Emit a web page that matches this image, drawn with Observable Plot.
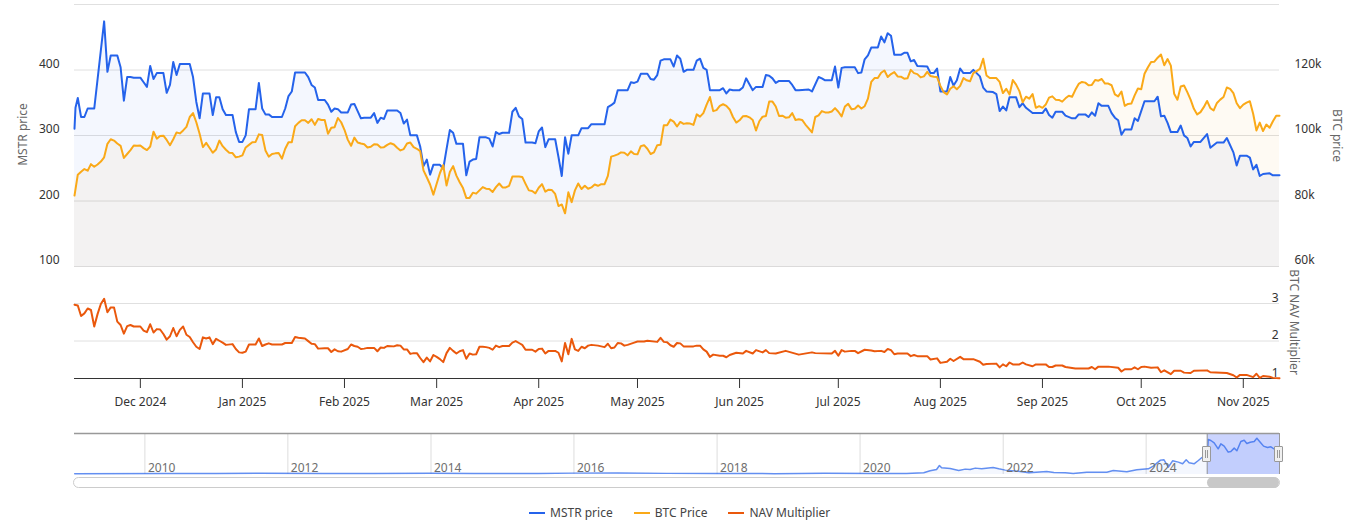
<!DOCTYPE html>
<html>
<head>
<meta charset="utf-8">
<script src="https://cdn.jsdelivr.net/npm/d3@7"></script>
<script src="https://cdn.jsdelivr.net/npm/@observablehq/plot@0.6"></script>
<style>
html,body{margin:0;padding:0;background:#fff;overflow:hidden}
#page{position:relative;width:1366px;height:529px;overflow:hidden;font-family:"Noto Sans",sans-serif}
#page svg{position:absolute;left:0;overflow:visible;background:transparent}
.track,.thumb,.handle,.legend{position:absolute}
.track{left:73px;top:477px;width:1205px;height:9px;border:1px solid #ccc;border-radius:6px;background:#fff}
.thumb{left:1207px;top:477px;width:72px;height:11px;border-radius:6px;background:#c8c8c8}
.handle{top:446px;width:7px;height:14px;background:#f0f0f0;border:1px solid #999;border-radius:1px}
.handle:after{content:"";position:absolute;left:2px;top:3px;width:1px;height:8px;border-left:1px solid #999;border-right:1px solid #999}
.legend{left:529px;top:504px;display:flex;align-items:center;font-size:12px;color:#444;line-height:18px}
.legend span.sw{display:inline-block;width:16px;height:2px;margin-right:5px}
.legend span.lb{margin-right:21px}
</style>
</head>
<body>
<div id="page"></div>
<script>
const startDay = Date.UTC(2024, 10, 11);
const lastDay = 366;
const monthTicks = ["2024-12-01","2025-01-01","2025-02-01","2025-03-01","2025-04-01","2025-05-01","2025-06-01","2025-07-01","2025-08-01","2025-09-01","2025-10-01","2025-11-01"];
const mstrTicks = [100,200,300,400];
const gridTicks = [100,200,300,400,500];
const btcTicks = [60,80,100,120];
const navTicks = [1,2,3];
const navGrid = [2,3];

const mstrDay = [0,0.3,1,2,3,4,6,9,10,11,13,14,15,16,17,18,20,21,22,23,24,25,27,28,29,30,31,32,35,36,37,38,39,41,42,43,44,45,46,48,49,50,51,52,53,55,56,57,58,59,60,63,64,65,66,67,70,71,72,73,74,76,77,78,79,80,81,83,84,85,86,87,88,90,91,92,93,94,95,98,99,100,101,102,104,105,106,107,108,109,111,112,113,114,115,116,118,119,120,121,122,123,125,126,127,128,129,130,132,133,134,135,136,137,139,140,141,142,143,144,146,147,148,149,150,151,153,154,156,157,161,162,163,164,165,168,169,170,171,172,174,175,176,177,178,179,181,182,183,184,185,186,188,189,190,191,192,193,196,197,198,199,200,202,203,204,205,206,207,209,210,211,212,213,214,217,218,219,220,223,224,226,227,228,230,231,232,233,234,237,238,239,240,241,242,244,245,246,247,248,249,251,252,253,254,255,256,259,260,261,262,263,265,266,267,268,269,270,272,273,275,276,277,279,280,281,282,283,284,286,287,288,289,291,294,295,296,297,298,300,301,303,304,305,307,308,309,310,311,312,314,315,316,317,318,319,321,322,323,325,328,329,330,331,332,333,335,336,337,338,339,340,342,344,345,347,349,350,352,353,354,356,357,358,359,360,361,363,364,366];
const mstrPrice = [311,343,358,329,329,342,342,475,398,423,423,405,354,390,390,389,389,382,375,407,387,396,396,366,378,413,393,410,410,390,352,327,365,365,332,359,359,341,332,332,306,291,291,301,341,341,381,342,333,333,329,329,342,361,368,397,397,390,378,374,355,355,348,337,342,341,336,336,348,349,338,327,328,328,335,320,328,326,339,339,335,319,325,301,301,284,254,264,241,256,256,250,280,309,305,288,288,240,261,264,265,298,298,296,284,306,303,305,305,337,343,330,326,290,290,289,307,313,283,295,295,268,239,298,273,301,301,312,312,318,318,344,347,351,370,370,382,381,383,395,395,387,386,393,415,417,417,406,423,418,398,401,401,415,418,404,401,370,370,373,365,371,370,370,374,388,379,370,375,375,393,392,388,381,384,384,378,370,370,371,368,390,388,385,385,406,374,404,405,405,396,397,417,423,435,435,452,443,457,453,424,424,427,427,414,416,407,406,396,396,403,368,368,390,377,385,403,396,396,401,391,374,368,367,364,338,345,339,359,359,344,350,343,335,335,342,332,328,337,337,331,327,327,333,333,329,336,331,350,346,346,335,328,324,302,310,310,327,323,353,353,360,330,331,320,306,306,316,301,297,284,291,291,303,282,290,290,297,275,255,270,270,267,249,256,239,242,243,240,240];

const btcPriceK = [81.8,88.2,89.1,89.9,89.4,91.4,90.6,91.3,92.2,93.5,97.6,99,98.6,97.7,97,93.3,94.5,95.7,97.1,97,97.1,96.3,95.7,96.8,101.3,99.2,100,100.1,98.8,97.2,99,101.1,100.8,101.7,102.8,105.8,107,104.2,100.7,96.6,97.9,96.4,94.9,95.9,98.6,96.9,95.8,94.9,94.8,93.5,93.7,94.1,96.5,97.3,98.1,98.2,100.5,100.3,95.6,93.7,94.5,94.7,94.8,93.1,96.1,98.1,98.1,103,104,104.8,104.8,104,105.1,103.4,105.2,104.9,104.9,100.7,102.5,102.7,105.5,104.2,101.9,98.9,97,99.5,98,97.7,97.5,96.5,96.7,97.5,97.4,96.5,96.6,97.3,97.8,97.4,96.4,95.6,96,97.7,98,96.6,96.1,95.4,89.5,87.4,85.2,82.1,85.4,88.7,91.1,84.9,89,90.8,87.9,85.9,84.1,81.1,81.1,82.7,82.4,83.4,84.4,83.9,83.8,82.9,84.4,85.5,84.3,84.3,84.8,87.6,87.6,87.6,87.5,85.4,83.4,83.2,82.5,84.2,85.3,83,83.6,83.5,82.3,78.6,79.1,76.4,82.8,79.8,83.4,85.5,83.8,84.8,83.9,84.3,85.2,84.8,85.3,85.3,87.8,93.7,94,94.4,95,94.9,94.1,95.3,94.5,94.4,96.9,97.2,96.1,94.5,95,97.2,97.3,103.3,103.3,105,104.4,102.9,104.3,103.7,103.9,103.8,103.4,106.6,105.9,107,109.6,111.9,107.6,107.9,109.2,109.7,109.2,108.1,105.8,104.1,104.8,106,106.1,105.7,104.9,101.7,104.5,105.9,106.1,110.5,110.5,109,106.1,106.2,105.6,105.7,107,104.9,105.1,104.9,103.5,102.3,101.1,105.8,106.3,107.6,107.2,107.2,107.5,108.5,107.4,106,109,109.8,108.2,108.3,109.3,108.4,109.1,111.4,116.5,117.7,117.7,119.3,120,118,118.9,119.5,118.2,118.1,117.5,117.6,120.2,119.2,118.9,117.9,118.2,119.6,118.3,118.1,118,115.3,113.4,112.7,114.4,115.2,114.3,115.3,117.7,117,116.7,119.2,119.8,120.5,123.6,118.5,117.7,117.7,117.7,116.5,113.1,114.4,112.7,117.1,115.7,113.7,110.3,112,111.4,112.8,108.6,109.1,108.6,109.6,111.7,112.1,111.1,111,110.5,111.5,112.3,112,114.1,115.9,116.5,116.3,115.5,115.6,117.1,116.9,117.4,116,116,115.5,112.7,112.1,113.6,109.2,109.8,109.9,112.4,114.5,114.3,119,120.9,122.6,122.7,123.9,124.9,121.6,123.5,121.5,112.9,111.1,115.1,115.4,113.4,111.1,108.3,106.6,107.3,108.8,110.7,108.5,107.8,110.1,111.1,111.9,114.8,114.4,113.1,110,108.5,109.6,110.2,110.6,106.8,101.7,104.1,101.5,103.5,102.5,104.5,106.2,106.2];

const navDay = [0,1,2,3,4,5,6,7,8,9,10,11,12,13,14,15,16,17,18,20,21,22,23,24,25,26,27,28,29,30,31,32,33,34,35,36,37,38,39,40,41,42,43,44,45,46,48,49,50,51,52,53,55,56,57,58,59,60,63,64,66,67,68,70,71,72,73,74,76,77,78,79,80,81,83,84,85,86,87,88,89,90,91,92,93,94,95,97,98,99,100,101,102,103,104,105,106,107,108,109,110,111,112,113,114,115,116,117,118,119,120,121,122,123,124,125,126,127,128,129,130,132,133,134,135,136,137,139,140,141,142,143,144,146,147,148,149,150,151,152,153,154,155,156,157,159,161,162,163,164,165,166,167,168,170,171,173,174,177,178,179,180,181,182,183,184,185,188,189,190,191,192,193,194,196,197,198,199,201,203,204,206,207,209,210,211,213,216,220,224,225,230,231,232,233,234,236,237,238,240,242,243,245,246,247,248,249,250,253,254,255,256,259,260,262,263,265,266,267,269,270,273,275,276,277,280,281,282,283,284,285,287,288,289,291,292,295,296,297,298,300,301,304,308,309,310,311,314,317,318,319,321,322,323,324,325,327,329,330,331,333,334,336,337,339,340,344,345,350,352,353,354,356,358,359,360,361,363,364,366];
const navMult = [2.98,2.96,2.68,2.75,2.88,2.84,2.40,2.73,3.0,3.14,2.78,2.91,2.91,2.53,2.44,2.21,2.41,2.44,2.40,2.40,2.29,2.25,2.46,2.24,2.33,2.32,2.20,2.05,2.14,2.36,2.14,2.31,2.40,2.18,2.12,1.98,1.86,1.80,2.11,2.08,2.11,1.93,2.07,2.02,1.97,1.91,1.93,1.80,1.71,1.70,1.73,1.92,1.92,2.08,1.88,1.92,1.95,1.92,1.92,1.96,1.96,2.12,2.10,2.08,2.01,1.94,1.93,1.81,1.82,1.82,1.72,1.79,1.74,1.73,1.80,1.92,1.88,1.86,1.80,1.81,1.83,1.83,1.83,1.74,1.84,1.83,1.88,1.87,1.90,1.89,1.79,1.79,1.67,1.69,1.69,1.56,1.45,1.57,1.47,1.64,1.59,1.53,1.45,1.69,1.83,1.75,1.68,1.74,1.77,1.54,1.68,1.65,1.66,1.86,1.86,1.85,1.83,1.78,1.89,1.85,1.88,1.88,1.97,2.01,1.96,1.91,1.78,1.78,1.73,1.80,1.81,1.68,1.75,1.75,1.70,1.47,1.96,1.66,2.07,1.79,1.75,1.86,1.82,1.89,1.91,1.89,1.85,1.94,1.82,1.84,1.96,1.95,1.89,1.91,1.97,2.0,2.0,2.02,1.99,2.10,1.99,1.98,1.90,1.86,1.96,1.95,1.87,1.87,1.89,1.89,1.79,1.73,1.59,1.65,1.62,1.62,1.58,1.64,1.70,1.68,1.75,1.68,1.77,1.71,1.77,1.69,1.68,1.75,1.65,1.71,1.69,1.68,1.75,1.62,1.77,1.73,1.75,1.75,1.69,1.78,1.76,1.74,1.75,1.72,1.80,1.77,1.66,1.68,1.68,1.61,1.64,1.61,1.61,1.52,1.55,1.43,1.46,1.54,1.48,1.59,1.53,1.53,1.46,1.38,1.40,1.41,1.31,1.39,1.34,1.44,1.39,1.39,1.44,1.39,1.34,1.39,1.39,1.32,1.32,1.36,1.36,1.32,1.28,1.28,1.32,1.26,1.33,1.33,1.30,1.20,1.26,1.26,1.31,1.26,1.32,1.33,1.30,1.31,1.18,1.23,1.13,1.22,1.22,1.17,1.16,1.22,1.23,1.18,1.16,1.10,1.04,1.11,1.11,1.05,1.14,1.03,1.08,1.06,1.03,1.02];

// navigator: full history
const histYear = [2009.02,2010.3,2011.0,2011.6,2012.5,2013.2,2014.0,2014.6,2015.5,2016.0,2016.6,2017.3,2018.0,2018.8,2019.5,2020.2,2020.65,2020.89,2020.98,2021.07,2021.11,2021.14,2021.26,2021.38,2021.47,2021.54,2021.61,2021.70,2021.86,2021.94,2022.03,2022.24,2022.36,2022.61,2022.71,2022.87,2022.98,2023.17,2023.45,2023.54,2023.73,2023.87,2024.03,2024.10,2024.20,2024.25,2024.31,2024.37,2024.45,2024.51,2024.56,2024.60,2024.67,2024.73,2024.78,2024.855,2024.867,2024.905,2024.951,2025.007,2025.045,2025.091,2025.147,2025.184,2025.231,2025.269,2025.324,2025.371,2025.408,2025.455,2025.511,2025.548,2025.595,2025.642,2025.697,2025.744,2025.80,2025.865];
const histValue = [6,8,7,13,9,8,12,10,8,14,16,10,8,6,11,8,8,19,51,72,136,99,88,56,78,72,94,83,104,83,62,40,19,40,24,19,8,29,29,56,35,67,83,126,222,227,110,211,190,163,227,179,163,216,264,243,552,536,499,403,483,446,350,360,414,371,520,541,488,509,520,573,509,446,424,435,392,381];
const histYearTicks = [2010,2012,2014,2016,2018,2020,2022,2024];
const selection = ["2024-11-08","2025-11-12"];

const dayDate = d => new Date(startDay + d * 864e5);
const yearDate = y => new Date(Date.UTC(2000,0,1) + (y - 2000) * 365.25 * 864e5);
const toDate = s => new Date(s + "T00:00:00Z");
const xDomain = [dayDate(0), dayDate(lastDay)];
const btcToY = k => 100 + (k - 60) * 5;

const mstr = mstrDay.map((d, i) => ({date: dayDate(d), value: mstrPrice[i]}));
const btc = btcPriceK.map((k, i) => ({date: dayDate(i), value: btcToY(k)}));
const nav = navDay.map((d, i) => ({date: dayDate(d), value: navMult[i]}));
const hist = histYear.map((y, i) => ({date: yearDate(y), value: histValue[i]}));

const blue = "#2563eb", orange = "#faa918", red = "#ea580c";
const font = {fontFamily: "'Noto Sans',sans-serif", fontSize: "12px", background: "transparent", overflow: "visible"};
const page = document.getElementById("page");
function add(svg, top) { svg.style.top = top + "px"; page.appendChild(svg); }

const panelA = Plot.plot({
  width: 1366, height: 282, marginTop: 4, marginBottom: 16, marginLeft: 74, marginRight: 87, style: font,
  x: {type: "utc", domain: xDomain, axis: null},
  y: {domain: [100, 500], axis: null},
  marks: [
    Plot.gridY(gridTicks, {stroke: "#e0e0e0", strokeOpacity: 1}),
    Plot.areaY(mstr, {x: "date", y1: 100, y2: "value", fill: blue, fillOpacity: 0.05, dy: 0.5}),
    Plot.areaY(btc, {x: "date", y1: 100, y2: "value", fill: "#f59e0b", fillOpacity: 0.05, dy: 0.5}),
    Plot.line(mstr, {x: "date", y: "value", stroke: blue, strokeWidth: 2, dy: 0.5}),
    Plot.line(btc, {x: "date", y: "value", stroke: orange, strokeWidth: 2, dy: 0.5}),
    Plot.axisY(mstrTicks, {anchor: "left", tickSize: 0, tickPadding: 15, dy: -6, color: "#333", label: null}),
    Plot.axisY(btcTicks.map(btcToY), {anchor: "right", tickSize: 0, tickPadding: 15, dy: -6, color: "#333", tickFormat: v => btcTicks[btcTicks.map(btcToY).indexOf(v)] + "k", label: null}),
    Plot.text(["MSTR price"], {frameAnchor: "left", rotate: -90, textAnchor: "middle", dx: -51, dy: -1, fill: "#666"}),
    Plot.text(["BTC price"], {frameAnchor: "right", rotate: 90, textAnchor: "middle", dx: 57, fill: "#666"})
  ]
});
add(panelA, 0);

const panelB = Plot.plot({
  width: 1366, height: 153, marginTop: 41, marginBottom: 37, marginLeft: 74, marginRight: 87, style: font,
  x: {type: "utc", domain: xDomain, axis: null},
  y: {domain: [1, 3], axis: null},
  marks: [
    Plot.gridY(navGrid, {stroke: "#e0e0e0", strokeOpacity: 1}),
    Plot.ruleY([1], {stroke: "#333"}),
    Plot.line(nav, {x: "date", y: "value", stroke: red, strokeWidth: 2, dy: 0.5}),
    Plot.axisX(monthTicks.map(toDate), {anchor: "bottom", tickSize: 10, tickPadding: 9, color: "#333", tickFormat: d3.utcFormat("%b %Y"), label: null}),
    Plot.text(navTicks, {y: d => d, frameAnchor: "right", text: d => String(d), textAnchor: "end", dx: -1, dy: -5.5, fill: "#333"}),
    Plot.text(["BTC NAV Multiplier"], {frameAnchor: "right", rotate: 90, textAnchor: "middle", dx: 14, dy: -19, fill: "#666"})
  ]
});
add(panelB, 262);

const panelC = Plot.plot({
  width: 1366, height: 65, marginTop: 8, marginBottom: 16, marginLeft: 74, marginRight: 87, style: font,
  x: {type: "utc", domain: [yearDate(2009.017), dayDate(lastDay)], axis: null},
  y: {domain: [-8, 648], axis: null},
  marks: [
    Plot.ruleX(histYearTicks.map(y => new Date(Date.UTC(y, 0, 1))), {stroke: "#ddd"}),
    Plot.rect([selection.map(toDate)], {x1: d => d[0], x2: d => d[1], y1: -8, y2: 648, fill: "#4466fc", fillOpacity: 0.28}),
    Plot.areaY(hist, {x: "date", y1: -8, y2: "value", fill: blue, fillOpacity: 0.05}),
    Plot.line(hist, {x: "date", y: "value", stroke: blue, strokeOpacity: 0.7, strokeWidth: 1.5}),
    Plot.text(histYearTicks, {x: y => new Date(Date.UTC(y, 0, 1)), frameAnchor: "bottom", text: y => String(y), textAnchor: "start", lineAnchor: "bottom", dx: 3, dy: -3, fill: "#6e6e6e"}),
    Plot.ruleY([648], {stroke: "#999", strokeWidth: 1.5}),
    Plot.ruleX(selection.map(toDate), {stroke: "#999"})
  ]
});
add(panelC, 425);

// scrollbar and handles of the range slider
page.insertAdjacentHTML("beforeend",
  '<div class="track"></div><div class="thumb"></div>' +
  '<div class="handle" style="left:1202px"></div><div class="handle" style="left:1274px"></div>');

const legendItems = [["MSTR price", blue], ["BTC Price", orange], ["NAV Multiplier", red]];
const legend = document.createElement("div");
legend.className = "legend";
legendItems.forEach(([name, color]) => {
  const sw = document.createElement("span"); sw.className = "sw"; sw.style.background = color;
  const lb = document.createElement("span"); lb.className = "lb"; lb.textContent = name;
  legend.append(sw, lb);
});
page.appendChild(legend);
</script>
</body>
</html>
